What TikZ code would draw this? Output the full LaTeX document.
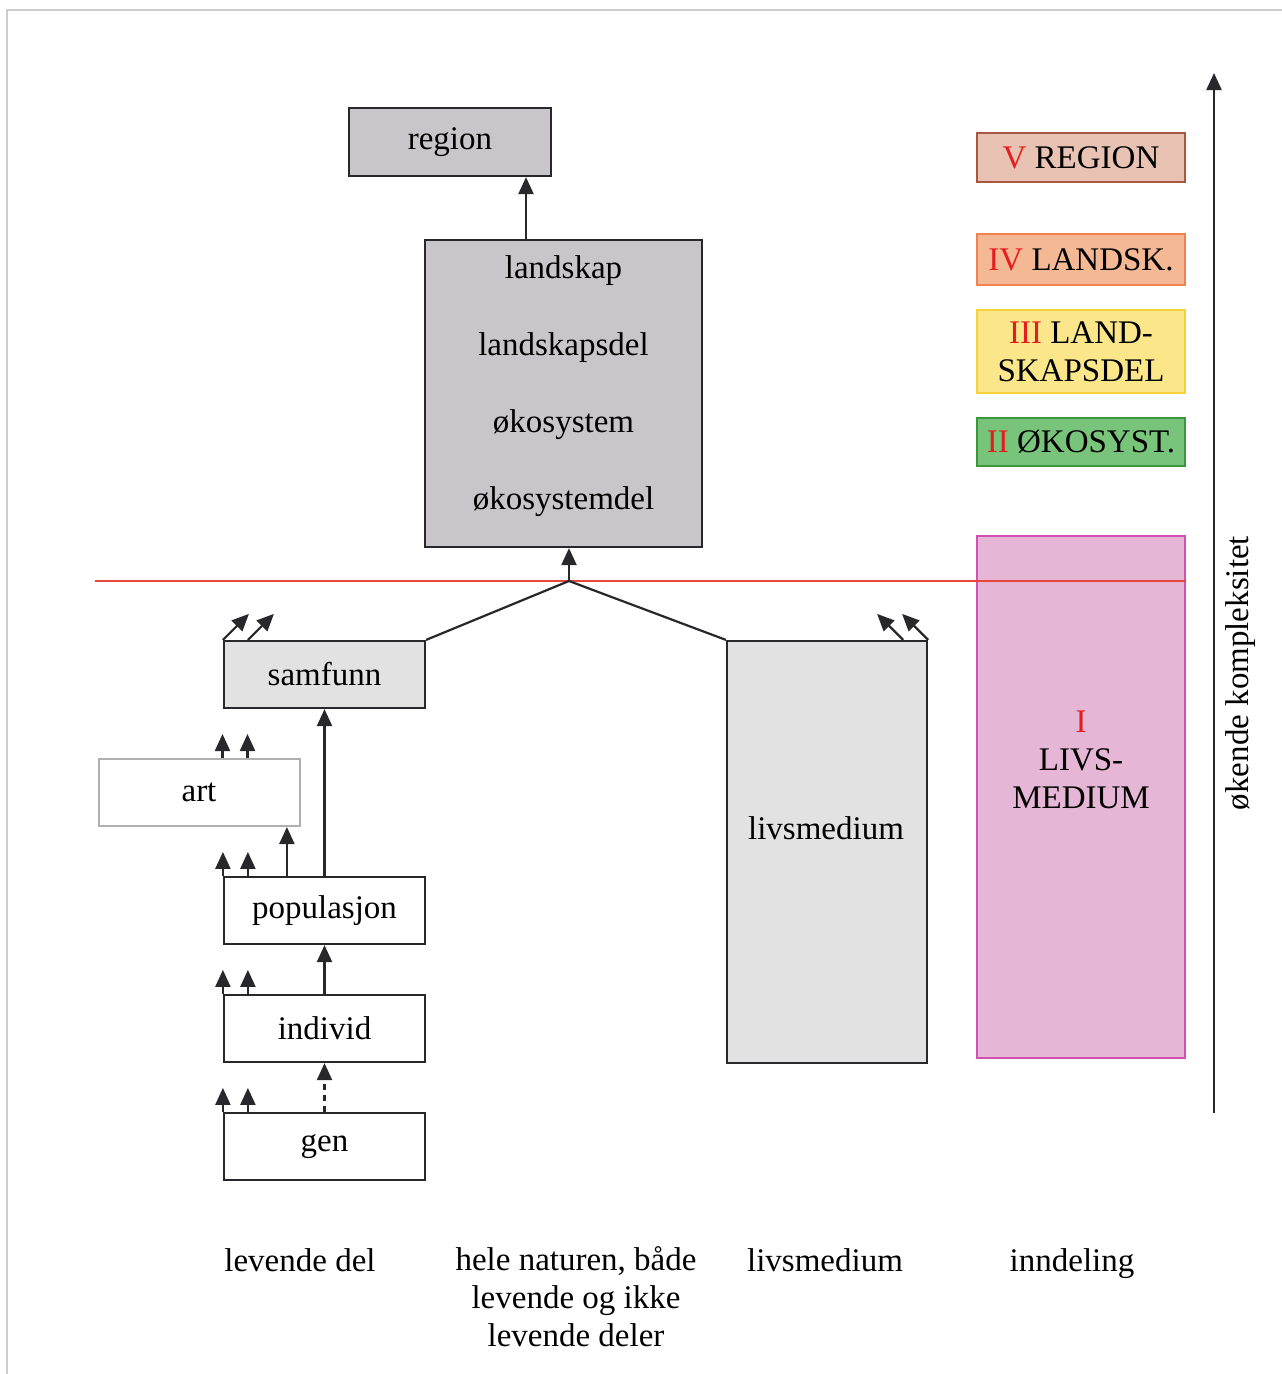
\documentclass[tikz,border=0pt]{standalone}
\usepackage{fontspec}
\setmainfont{Liberation Serif}
\usepackage{tikz}
\usetikzlibrary{arrows.meta, positioning, calc}
\definecolor{boxdark}{RGB}{40,40,44}
\definecolor{boxgrey}{RGB}{200,198,203}
\definecolor{boxlight}{RGB}{226,226,226}
\definecolor{artline}{RGB}{176,176,176}
\definecolor{numred}{RGB}{228,30,30}
\definecolor{cutline}{RGB}{232,70,58}
\definecolor{framegrey}{RGB}{205,205,205}
\definecolor{fillV}{RGB}{232,194,178}
\definecolor{drawV}{RGB}{168,88,64}
\definecolor{fillIV}{RGB}{245,184,148}
\definecolor{drawIV}{RGB}{240,130,80}
\definecolor{fillIII}{RGB}{251,230,138}
\definecolor{drawIII}{RGB}{248,210,60}
\definecolor{fillII}{RGB}{120,196,122}
\definecolor{drawII}{RGB}{60,150,60}
\definecolor{fillI}{RGB}{230,182,214}
\definecolor{drawI}{RGB}{210,80,176}
\tikzset{
  lvl/.style={rectangle, draw=boxdark, line width=2.2pt, inner sep=0pt,
    minimum width=201pt, minimum height=67pt, align=center},
  greylvl/.style={lvl, fill=boxgrey},
  lightlvl/.style={lvl, fill=boxlight},
  legend/.style={rectangle, line width=2pt, inner sep=0pt,
    minimum width=208pt, align=center},
  arr/.style={-{Triangle[width=15pt,length=17pt]}, line width=2.2pt, color=boxdark},
  line/.style={line width=2.2pt, color=boxdark},
  txt/.style={inner sep=0pt, align=center}
}

\begin{document}
\begin{tikzpicture}[x=1pt, y=-1pt, font=\fontsize{33}{38}\selectfont]
\useasboundingbox (0,0) rectangle (1282,1374);
\draw[framegrey, line width=2pt] (7,1374) -- (7,10) -- (1282,10);

\node[greylvl, minimum width=202pt, minimum height=68pt] (region) at (450,142) {\raisebox{-3pt}{region}};
\node[greylvl, minimum width=277pt, minimum height=307pt] (landskap) at (563.5,393.5) {};
\foreach \t [count=\i] in {landskap, landskapsdel, økosystem, økosystemdel}
  \node[txt] (ls\i) at (563.5,{271+77*(\i-1)}) {\t};

\node[lightlvl] (samfunn) at (324.5,674.5) {samfunn};
\node[lvl, draw=artline, line width=2pt] (art) at (199,792.5) {art};
\node[lvl] (pop) at (324.5,910.5) {populasjon};
\node[lvl] (ind) at (324.5,1028.5) {individ};
\node[lvl] (gen) at (324.5,1146.5) {gen};
\node[lightlvl, minimum width=200pt, minimum height=422pt] (livs) at (827,852) {};
\node[txt] (livstxt) at (826,828) {livsmedium};

\coordinate (apex) at (569,581);
\draw[cutline, line width=1.6pt] (95,581) -- (1185,581);

\draw[arr] ([xshift=-37.5pt]landskap.north) -- ([xshift=-37.5pt]landskap.north |- region.south);
\draw[arr] (apex) -- (apex |- landskap.south);
\draw[line] (samfunn.north east) -- (apex) -- (livs.north west);

\foreach \n in {pop, ind, gen} {
  \draw[arr] (\n.north west) -- ++(0,-24);
  \draw[arr] ([xshift=25pt]\n.north west) -- ++(0,-24);
}
\draw[arr] ([xshift=125pt]art.north west) -- ++(0,-24);
\draw[arr] ([xshift=150pt]art.north west) -- ++(0,-24);
\draw[arr] (samfunn.north west) -- ++(26,-26);
\draw[arr] ([xshift=25pt]samfunn.north west) -- ++(26,-26);
\draw[arr] (livs.north east) -- ++(-26,-26);
\draw[arr] ([xshift=-25pt]livs.north east) -- ++(-26,-26);

\draw[arr] ([xshift=64pt]pop.north west) -- ([xshift=64pt]pop.north west |- art.south);
\draw[arr] (pop.north) -- (samfunn.south);
\draw[arr] (ind.north) -- (pop.south);
\draw[arr, dashed, dash pattern=on 6pt off 5pt] (gen.north) -- (ind.south);

\node[legend, draw=drawV, fill=fillV, minimum height=49pt] (legV) at (1081,157.5) {\textcolor{numred}{V} REGION};
\node[legend, draw=drawIV, fill=fillIV, minimum height=51pt] (legIV) at (1081,259.5) {\textcolor{numred}{IV} LANDSK.};
\node[legend, draw=drawIII, fill=fillIII, minimum height=83pt] (legIII) at (1081,351.5) {\textcolor{numred}{III} LAND-\\SKAPSDEL};
\node[legend, draw=drawII, fill=fillII, minimum height=48pt] (legII) at (1081,442) {\textcolor{numred}{II} ØKOSYST.};
\node[legend, draw=drawI, fill=fillI, minimum height=522pt] (legI) at (1081,797) {};
\node[txt] (legItxt) at (1081,760) {\textcolor{numred}{I}\\LIVS-\\MEDIUM};
\draw[cutline, line width=1.6pt] (legI.west |- apex) -- (legI.east |- apex);

\coordinate (scalebot) at (1214,1113);
\coordinate (scaletop) at (1214,73);
\draw[arr] (scalebot) -- (scaletop);
\node[txt, rotate=90] (scaletxt) at (1241,673) {økende kompleksitet};

\node[txt] (collev) at (300,1260) {levende del};
\node[txt, anchor=north] (colhele) at (576,1246) {hele naturen, både\\levende og ikke\\levende deler};
\node[txt] (collivs) at (825,1260) {livsmedium};
\node[txt] (colinn) at (1072,1264) {inndeling};
\end{tikzpicture}
\end{document}
